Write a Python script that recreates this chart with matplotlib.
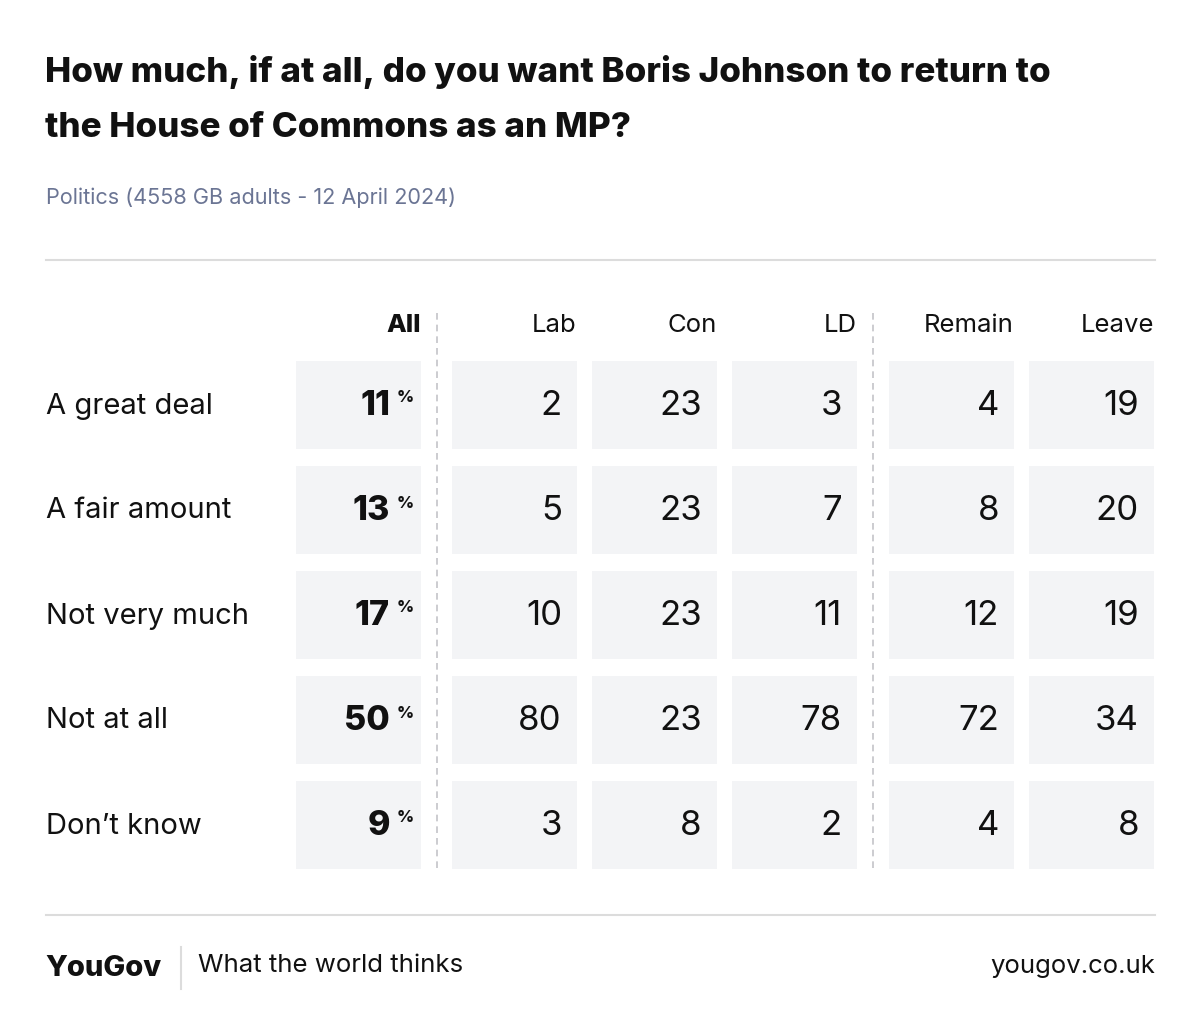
import matplotlib
matplotlib.use("Agg")
import matplotlib.pyplot as plt
from matplotlib.patches import Rectangle

title_lines = ["How much, if at all, do you want Boris Johnson to return to",
               "the House of Commons as an MP?"]
subtitle = "Politics (4558 GB adults - 12 April 2024)"
columns = ["All", "Lab", "Con", "LD", "Remain", "Leave"]
rows = ["A great deal", "A fair amount", "Not very much", "Not at all", "Don’t know"]
all_vals = [11, 13, 17, 50, 9]
lab = [2, 5, 10, 80, 3]
con = [23, 23, 23, 23, 8]
ld = [3, 7, 11, 78, 2]
remain = [4, 8, 12, 72, 4]
leave = [19, 20, 19, 34, 8]
series = [all_vals, lab, con, ld, remain, leave]

FONT = "Inter"
fig = plt.figure(figsize=(12, 10.35), dpi=100)
ax = fig.add_axes([0, 0, 1, 1])
ax.set_xlim(0, 1200)
ax.set_ylim(1035, 0)
ax.axis("off")

for k, line in enumerate(title_lines):
    ax.text(45, 72 + k * 56, line, fontsize=25.2, fontweight="heavy", family=FONT,
            color="#111111", va="center", ha="left")
ax.text(46, 198, subtitle, fontsize=15.6, family=FONT, color="#6b7594", va="center")
ax.plot([46, 1155], [260, 260], color="#dcdcdc", lw=1.5)
ax.plot([46, 1155], [915, 915], color="#dcdcdc", lw=1.5)

col_left = [296, 452, 592, 732, 889, 1029]
cw, rh, pitch, top = 125, 88, 105, 361

for j, name in enumerate(columns):
    ax.text(col_left[j] + cw, 325, name, ha="right", va="center", fontsize=18.5, family=FONT,
            fontweight="heavy" if j == 0 else "normal", color="#111111")

for i, r in enumerate(rows):
    yc = top + i * pitch + rh / 2
    ax.text(46, yc + 1, r, ha="left", va="center", fontsize=21, family=FONT, color="#111111")
    for j, s in enumerate(series):
        ax.add_patch(Rectangle((col_left[j], top + i * pitch), cw, rh, color="#f3f4f6", lw=0))
        if j == 0:
            ax.text(col_left[j] + cw - 31, yc + 1, str(s[i]), ha="right", va="center",
                    fontsize=24.5, family=FONT, fontweight="heavy", color="#111111")
            ax.text(col_left[j] + cw - 24, yc - 7, "%", ha="left", va="center", fontsize=12,
                    family=FONT, fontweight="heavy", color="#111111")
        else:
            ax.text(col_left[j] + cw - 15, yc + 1, str(s[i]), ha="right", va="center",
                    fontsize=25, family=FONT, fontweight="normal", color="#111111")

for x in (437, 873):
    ax.plot([x, x], [313, 870], color="#c4c4c8", lw=1.2, ls=(0, (4, 3)))

ax.text(45, 968, "YouGov", ha="left", va="center", fontsize=21, fontweight="heavy", family=FONT,
        color="#111111")
ax.plot([181, 181], [947, 989], color="#dcdcdc", lw=1.5)
ax.text(198, 966, "What the world thinks", ha="left", va="center", fontsize=18.6, family=FONT,
        color="#111111")
ax.text(1155, 966, "yougov.co.uk", ha="right", va="center", fontsize=18.5, family=FONT,
        color="#111111")

fig.savefig("out.png", dpi=100, facecolor="white")
